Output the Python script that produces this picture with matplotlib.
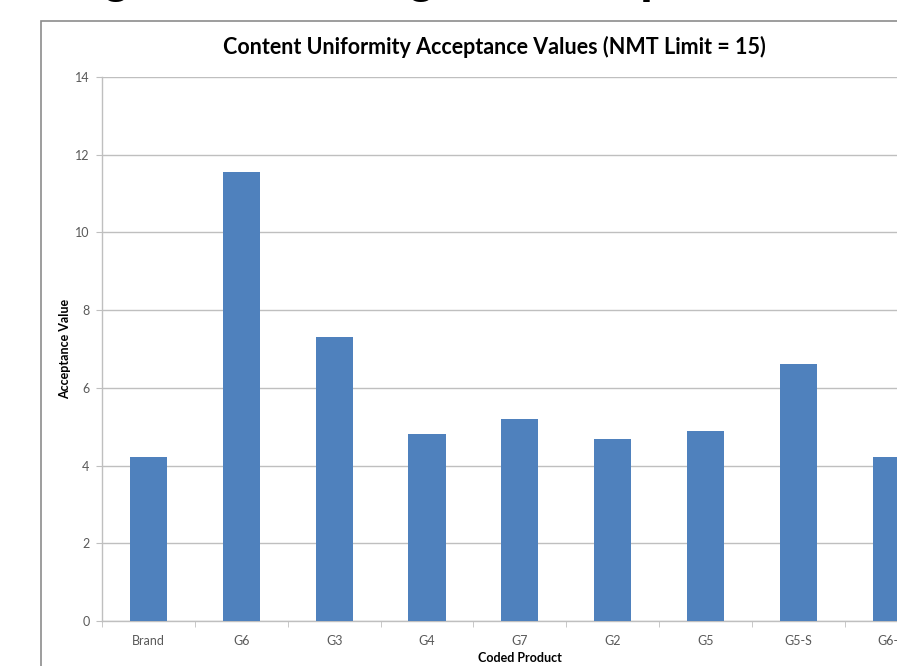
import matplotlib.pyplot as plt
from matplotlib.patches import Rectangle

# Acceptance values per coded product
products = ['Brand', 'G6', 'G3', 'G4', 'G7', 'G2', 'G5', 'G5-S', 'G6-S']
acceptance_values = [4.21, 11.56, 7.30, 4.81, 5.20, 4.68, 4.89, 6.62, 4.21]
y_ticks = [0, 2, 4, 6, 8, 10, 12, 14]

W, H = 897, 666
BAR_BLUE = '#4F81BD'
GRID_GRAY = '#BFBFBF'
TEXT_GRAY = '#595959'

plt.rcParams['font.family'] = ['Lato', 'DejaVu Sans']

fig = plt.figure(figsize=(W / 100, H / 100), dpi=100)
fig.patch.set_facecolor('white')

# Slide heading above the chart, only its descenders fall inside the frame
for gx, ch in [(101, 'g'), (406, 'g'), (640, 'p')]:
    fig.text(gx / W, 1 + 8 / H, ch, fontsize=34, fontweight='bold',
             family='Liberation Sans', color='black', va='baseline', ha='left')

# Outer chart border
fig.patches.append(Rectangle((41 / W, -0.1), 1.2, 1.1 - 21 / H,
                             transform=fig.transFigure, fill=False,
                             edgecolor='#8C8C8C', linewidth=1.2, zorder=0))

ax = fig.add_axes([102 / W, 1 - 621 / H, 835.7 / W, 544 / H])
ax.set_facecolor('none')

x = range(len(products))
ax.bar(x, acceptance_values, width=0.4, color=BAR_BLUE, zorder=3)

ax.set_xlim(-0.5, len(products) - 0.5)
ax.set_ylim(0, 14)
ax.set_yticks(y_ticks)
ax.set_yticklabels([str(v) for v in y_ticks], fontsize=9, color=TEXT_GRAY)
ax.grid(axis='y', color=GRID_GRAY, linewidth=1, zorder=0)

# Category labels centred, tick marks on the boundaries
ax.set_xticks(list(x))
ax.set_xticklabels(products, fontsize=9, color=TEXT_GRAY)
ax.tick_params(axis='x', which='major', length=0, pad=10)
ax.set_xticks([i - 0.5 for i in range(len(products) + 1)], minor=True)
ax.tick_params(axis='x', which='minor', length=4, color=GRID_GRAY, direction='out')
ax.tick_params(axis='y', length=4, color=GRID_GRAY, pad=5)

for side in ['top', 'right']:
    ax.spines[side].set_visible(False)
for side in ['left', 'bottom']:
    ax.spines[side].set_color(GRID_GRAY)
    ax.spines[side].set_linewidth(1)

ax.set_xlabel('Coded Product', fontsize=9, fontweight='bold', labelpad=4)
ax.set_ylabel('Acceptance Value', fontsize=9, fontweight='bold', labelpad=3)

fig.text(494 / W, 1 - 47 / H,
         'Content Uniformity Acceptance Values (NMT Limit = 15)',
         fontsize=15.5, fontweight='bold', ha='center', va='center', color='black')

fig.savefig('out.png', dpi=100)
